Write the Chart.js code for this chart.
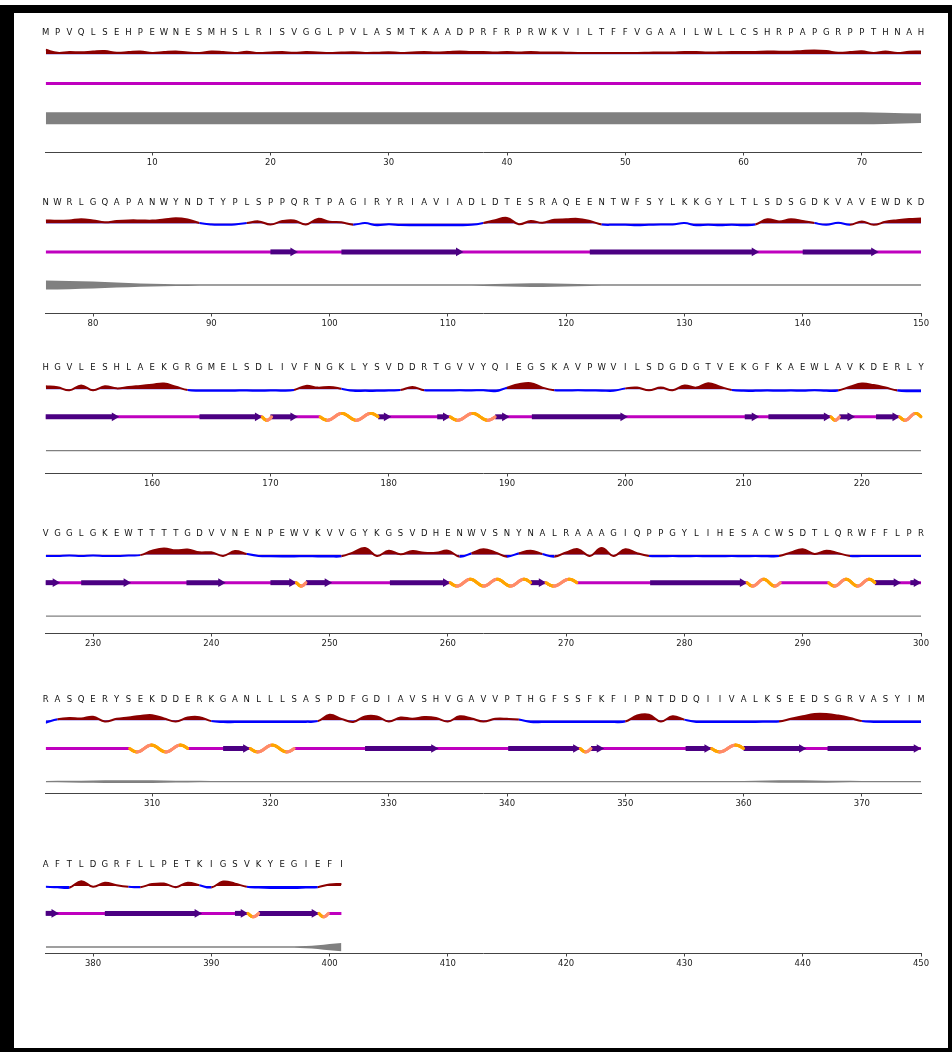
<!DOCTYPE html>
<html>
<head>
<meta charset="utf-8">
<script src="https://cdn.jsdelivr.net/npm/chart.js@4.4.1/dist/chart.umd.min.js"></script>
<style>
  html, body { margin: 0; padding: 0; background: #fff; }
  #frame {
    position: absolute; left: 0; top: 5px; width: 952px; height: 1047px;
    box-sizing: border-box; border-style: solid; border-color: #000;
    border-width: 8px 4px 4px 14px; background: #fff;
  }
  canvas { position: absolute; left: 0; }
</style>
</head>
<body>
<div id="frame"></div>
<script>
// sequence, one letter per residue
const sequence =
  'MPVQLSEHPEWNESMHSLRISVGGLPVLASMTKAADPRFRPRWKVILTFFVGAAILWLLCSHRPAPGRPPTHNAH' +
  'NWRLGQAPANWYNDTYPLSPPQRTPAGIRYRIAVIADLDTESRAQEENTWFSYLKKGYLTLSDSGDKVAVEWDKD' +
  'HGVLESHLAEKGRGMELSDLIVFNGKLYSVDDRTGVVYQIEGSKAVPWVILSDGDGTVEKGFKAEWLAVKDERLY' +
  'VGGLGKEWTTTTGDVVNENPEWVKVVGYKGSVDHENWVSNYNALRAAAGIQPPGYLIHESACWSDTLQRWFFLPR' +
  'RASQERYSEKDDERKGANLLLSASPDFGDIAVSHVGAVVPTHGFSSFKFIPNTDDQIIVALKSEEDSGRVASYIM' +
  'AFTLDGRFLLPETKIGSVKYEGIEFI';

const panelStarts = [1, 76, 151, 226, 301, 376];
const panelSpan = 74;
const tickStep = 10;

// disorder profile per residue (>0 red, <0 blue)
const disorder = [
  4.5,1.5,2.3,2.0,2.8,3.2,1.6,2.2,2.8,1.4, 2.2,2.8,1.8,1.4,2.8,2.2,1.2,2.6,1.2,1.8,
  2.2,1.6,2.2,1.8,1.4,1.8,2.0,1.4,1.6,2.0, 1.4,1.8,2.2,1.8,2.2,2.8,2.2,2.4,1.8,2.4,
  1.8,2.4,1.8,1.8,1.6,1.4,1.4,1.4,1.4,1.4, 1.4,1.6,1.8,1.8,2.2,2.2,1.8,2.0,2.2,2.2,
  2.4,2.8,2.6,2.6,3.4,3.8,3.2,1.6,2.2,3.0, 1.4,2.8,1.2,2.6,2.8,

  3.2,2.8,3.2,4.5,3.2,1.2,2.5,3.2,3.2,3.0, 4.2,5.5,4.2,0.5,-1,-1.2,-1,0.5,2.2,-1,
  2.5,3.2,-1,4.8,1.8,1.2,-1.2,0.4,-1.8,-0.8, -1.6,-1.8,-1.8,-1.8,-1.8,-1.8,-1.4,0.5,3.5,5.8,
  -0.8,2.6,0.8,3.8,4.3,4.8,2.5,-1,-1.4,-1.4, -1.8,-1.4,-1,-1,0.4,-1.8,-1.4,-1.8,-1.4,-1.8,
  -1,4.3,2.2,4.3,2.6,0.4,-1.4,0.8,-1.4,2.2, -1.4,1.8,3.4,4.6,5.2,

  3,2,-1.2,3.8,-1.2,3,0.8,2.2,3.4,4.6, 5.8,2.5,-1,-1.6,-1.6,-1.8,-1.6,-1.4,-1.8,-1.4,
  -1.6,-0.8,3.4,1.6,2.2,0.4,-1.8,-1.8,-1.8,-1.4, -1,2.2,-1.2,-1.4,-1.4,-1.2,-1.4,-1.2,-2.2,1.6,
  5,6.2,1.6,-1.2,-1.4,-1.2,-1.4,-1.6,-1.8,0.8, 1.6,-1.2,1.6,-1.2,3.8,1.6,6.2,2.5,-0.8,-1.8,
  -1.8,-1.4,-1.8,-1.4,-1.8,-1.2,-1.8,-1.4,2.5,5.8, 4.2,1.6,-1.4,-2.2,-2.2,

  -1.2,-1.2,-0.8,-1.2,-0.8,-1.2,-1.2,-0.8,-0.4,4.2, 6.6,4.6,5.4,2.5,2.5,-1.2,3.8,0.8,-1.2,-1.6,
  -1.8,-1.8,-1.6,-1.8,-1.8,-1.6,2.5,7,-1.2,4.2, 0.4,3.8,2,2,4.2,-2,1.6,5.8,2.5,-2,
  1.6,4.2,0.8,-2,2.5,5.8,-1.2,7,-1.2,5.8, 1.6,-1.2,-1.6,-1.4,-1.6,-1.4,-1.6,-1.6,-1.4,-1.6,
  -1.4,-1.6,-1.4,2.5,5.8,0.8,4.2,1.6,-1.2,-1.4, -1.4,-1.4,-1.4,-1.2,-1.2,

  -2.4,1.2,2.5,2,3.8,-1.2,1.6,3,4.6,5.4, 2,-1.2,3,3.4,-0.8,-1.8,-1.8,-1.8,-1.8,-1.8,
  -1.6,-1.8,-1.6,-0.8,5.8,1.6,-1.6,4.2,4.2,-1.2, 3,1.6,3.4,2.5,-1.2,4.2,2,-1.2,1.6,1.6,
  0.8,-1.6,-1.8,-1.8,-1.8,-1.8,-1.8,-1.6,-1.8,-1.2, 5,5.8,-1.2,4.2,0.8,-1.6,-1.6,-1.8,-1.8,-1.6,
  -1.6,-1.4,-1.2,1.6,4.2,6.6,6.6,5,2.5,-0.8, -1.6,-1.8,-1.6,-1.8,-1.6,

  -0.8,-1.2,-1.8,5,-0.8,3.4,0.8,-0.8,-1.2,2, 2.5,-1.2,3.4,0.8,-1.6,4.6,2.5,-0.8,-1.6,-2,
  -2,-2,-1.6,-1.2,1.6,2
];

// grey track thickness, [residue, width]
const grayPoints = [
  [1,12],[70,12],[72,11.2],[75,9.5],
  [76,9.3],[78,8.5],[80,7.3],[82,5.2],[84,3.2],[86,2.2],[88,1.7],[90,1.5],[112,1.5],
  [114,2.5],[116,3.4],[118,3.8],[120,3],[122,1.9],[124,1.5],[150,1.5],
  [151,1.5],[225,1.5],
  [226,1.5],[300,1.5],
  [301,1.5],[303,1.8],[305,2.4],[307,2.8],[309,2.7],[311,2.2],[313,1.7],[315,1.5],[360,1.5],
  [362,2.1],[364,2.6],[366,2.4],[368,1.8],[370,1.5],[375,1.5],
  [376,1.5],[396,1.5],[398,2.2],[399,3.8],[400,6.5],[401,8.5]
];

// beta strands [start, end]
const strands = [
  [95,96.9],[101,110.9],[122,135.9],[140,146],
  [151,156.8],[164,168.9],[170,171.9],[179.1,179.8],[184.1,184.8],[189,189.8],[192.1,199.8],
  [210.1,210.9],[212.1,217],[218.1,219],[221.2,222.8],
  [226,226.8],[229,232.8],[237.9,240.8],[245,246.8],[248,249.8],[255.1,259.8],[267,267.9],
  [277.1,284.9],[296.1,297.9],[299.1,299.6],
  [316,317.9],[328,333.8],[340.1,345.8],[347.1,347.8],[355.1,356.9],[360,364.9],[367.1,374.6],
  [376,376.7],[381,388.8],[392,392.7],[394,398.7]
];

// helices [start, end]
const helices = [
  [169.3,170.1],[174.2,179.1],[185.2,189],[217.4,218.1],[223.2,225],
  [247.2,248],[260.2,267],[268.3,270.9],[285.3,288.1],[292.2,296.1],
  [308.1,313],[318.3,322],[346.2,347.1],[357.3,360],
  [393.1,394],[399.1,399.9]
];

// layout (page pixels)
const ROW_STEP = 165.7, AXIS_STEP = 160.2;
const Y_LETTER = 32.3, Y_DIS = 54.3, Y_SS = 83.3, Y_GRAY = 118.3, Y_AXIS = 152.3;
const PLOT_LEFT = 45.7, PLOT_RIGHT = 921, PAGE_W = 952;
const WAVE_AMP = 3.4, HALF_WAVE = 13;

const RED = '#8b0000', BLUE = '#0000ff', MAGENTA = '#bf00bf', INDIGO = '#4b0082';
const ORANGE = '#ffa500', SALMON = '#ff8c69', GRAY = '#808080';

Chart.defaults.font.family = '"DejaVu Sans", sans-serif';

panelStarts.forEach((start, i) => {
  const last = Math.min(start + panelSpan, sequence.length);
  const top = Math.round(Y_LETTER + ROW_STEP * i - 18);
  const lv = {
    letter: Y_LETTER + ROW_STEP * i - top,
    dis: Y_DIS + ROW_STEP * i - top,
    ss: Math.floor(Y_SS + ROW_STEP * i - top) + 0.5,
    gray: Y_GRAY + ROW_STEP * i - top
  };
  const axisRel = Math.round(Y_AXIS + AXIS_STEP * i) - top;

  const canvas = document.createElement('canvas');
  canvas.width = PAGE_W;
  canvas.height = axisRel + 25;
  canvas.style.top = top + 'px';
  document.body.appendChild(canvas);

  // disorder line
  const disData = [];
  for (let p = start; p <= last; p++) disData.push({ x: p, y: lv.dis - disorder[p - 1] });

  // grey band
  const gp = grayPoints.filter(g => g[0] >= start && g[0] <= last);
  const grayUpper = gp.map(g => ({ x: g[0], y: lv.gray - g[1] / 2 }));
  const grayLower = gp.map(g => ({ x: g[0], y: lv.gray + g[1] / 2 }));

  // coil line, broken where helices sit
  const hs = helices.filter(h => h[1] > start && h[0] < last);
  const coil = [{ x: start, y: lv.ss }];
  hs.forEach(h => {
    coil.push({ x: h[0], y: lv.ss }, { x: (h[0] + h[1]) / 2, y: null }, { x: h[1], y: lv.ss });
  });
  coil.push({ x: last, y: lv.ss });

  const strandSets = strands.filter(s => s[0] >= start && s[0] <= last).map(s => ({
    data: [{ x: s[0], y: lv.ss }, { x: s[1], y: lv.ss }],
    borderColor: INDIGO, borderWidth: 5, borderCapStyle: 'butt',
    pointRadius: [0, 5], pointStyle: 'triangle', pointRotation: 90,
    pointBackgroundColor: INDIGO, pointBorderWidth: 0,
    order: 1, clip: false
  }));

  const datasets = [
    {
      data: disData, borderColor: RED, borderWidth: 2, pointRadius: 0, tension: 0.4,
      fill: { target: { value: lv.dis }, above: RED, below: BLUE },
      segment: {
        borderColor: c => ((c.p0.parsed.y + c.p1.parsed.y) / 2 <= lv.dis ? RED : BLUE)
      },
      order: 2
    },
    {
      data: grayUpper, borderColor: 'rgba(0,0,0,0)', borderWidth: 0, pointRadius: 0,
      cubicInterpolationMode: 'monotone', fill: false, order: 4
    },
    {
      data: grayLower, borderColor: 'rgba(0,0,0,0)', borderWidth: 0, pointRadius: 0,
      cubicInterpolationMode: 'monotone', fill: '-1', backgroundColor: GRAY, order: 4
    },
    {
      data: coil, borderColor: MAGENTA, borderWidth: 3, pointRadius: 0,
      spanGaps: false, borderCapStyle: 'butt', order: 3
    },
    ...strandSets
  ];

  const sequencePlugin = {
    id: 'sequence',
    afterDraw(chart) {
      const { ctx, scales: { x, y } } = chart;
      ctx.save();
      ctx.font = '8.5px "DejaVu Sans"';
      ctx.fillStyle = '#111';
      ctx.textAlign = 'center';
      ctx.textBaseline = 'middle';
      for (let p = start; p <= last; p++) {
        ctx.fillText(sequence[p - 1], x.getPixelForValue(p), y.getPixelForValue(lv.letter));
      }
      ctx.restore();
    }
  };

  const helixPlugin = {
    id: 'helix',
    afterDatasetsDraw(chart) {
      const { ctx, scales: { x, y } } = chart;
      const yc = y.getPixelForValue(lv.ss);
      ctx.save();
      ctx.lineWidth = 3;
      ctx.lineCap = 'round';
      hs.forEach(([s, e]) => {
        const x0 = x.getPixelForValue(Math.max(s, start));
        const x1 = x.getPixelForValue(Math.min(e, last));
        const n = Math.max(1, Math.round((x1 - x0) / HALF_WAVE));
        const steps = Math.max(8, Math.ceil((x1 - x0) * 1.5));
        let px = x0, py = yc;
        for (let k = 1; k <= steps; k++) {
          const t = k / steps;
          const nx = x0 + t * (x1 - x0);
          const ny = yc + WAVE_AMP * Math.sin(Math.PI * n * t);
          ctx.strokeStyle = ny >= py ? ORANGE : SALMON;
          ctx.beginPath();
          ctx.moveTo(px, py);
          ctx.lineTo(nx, ny);
          ctx.stroke();
          px = nx; py = ny;
        }
      });
      ctx.restore();
    }
  };

  new Chart(canvas.getContext('2d'), {
    type: 'line',
    data: { datasets },
    options: {
      responsive: false,
      animation: false,
      devicePixelRatio: 1,
      events: [],
      layout: { padding: { left: PLOT_LEFT, right: PAGE_W - PLOT_RIGHT, top: 0, bottom: 0 } },
      plugins: { legend: { display: false }, tooltip: { enabled: false } },
      scales: {
        x: {
          type: 'linear', position: 'bottom',
          min: start, max: start + panelSpan,
          border: { display: true, color: '#444', width: 1 },
          grid: { display: true, drawOnChartArea: false, drawTicks: true, tickLength: 3.5, color: '#444' },
          ticks: {
            stepSize: tickStep, includeBounds: false, autoSkip: false, maxRotation: 0,
            padding: 2, color: '#222', font: { size: 8.5 }
          },
          afterBuildTicks: scale => {
            scale.ticks = scale.ticks.filter(t => t.value % tickStep === 0);
          },
          afterFit: scale => { scale.height = 25; }
        },
        y: { type: 'linear', display: false, min: 0, max: axisRel, reverse: true }
      }
    },
    plugins: [sequencePlugin, helixPlugin]
  });
});
</script>
</body>
</html>
